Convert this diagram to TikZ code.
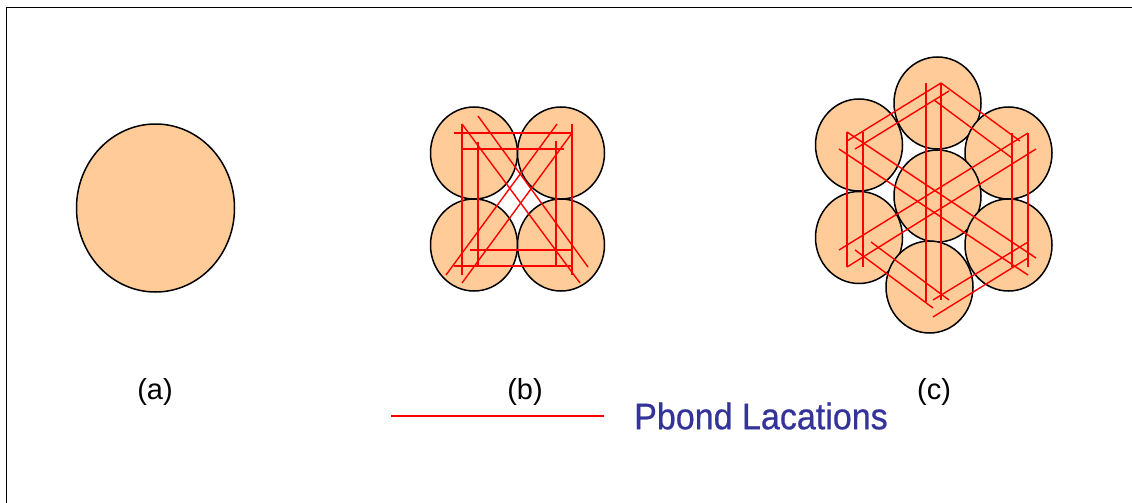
\documentclass[tikz,border=0pt]{standalone}
\usepackage{fontspec}
\setmainfont{Liberation Sans}
\newfontfamily\heavyfont[FakeBold=0.6]{Liberation Sans}
\definecolor{fillc}{RGB}{255,204,153}
\definecolor{txtblue}{RGB}{51,51,153}
\usetikzlibrary{shapes.geometric}
\tikzset{
  strand/.style={draw=black,fill=fillc,line width=1.5pt,ellipse,minimum width=87pt,minimum height=92pt,inner sep=0pt},
  bond/.style={draw=red,line width=1.4pt},
  caption/.style={font=\fontsize{29}{33}\selectfont,text=black,inner sep=0pt},
  legendtext/.style={font=\heavyfont\fontsize{37}{42}\selectfont,text=txtblue,inner sep=0pt,anchor=west,xscale=0.92},
  frameline/.style={draw=black,line width=1.5pt}
}
\begin{document}
\begin{tikzpicture}[x=1pt,y=-1pt]
\useasboundingbox (0,0) rectangle (1132,503);
\fill[white] (0,0) rectangle (1132,503);
\coordinate (fa) at (6.5,503);
\coordinate (fb) at (6.5,7.5);
\coordinate (fc) at (1132,7.5);
\draw[frameline] (fa) -- (fb) -- (fc);
% (a)
\node[strand,minimum width=158pt,minimum height=168pt] (sa) at (155.5,208) {};
% (b)
\foreach \n/\x/\y in {btl/474/153,btr/561/153,bbl/474/245,bbr/561/245}
  \node[strand] (\n) at (\x,\y) {};
\foreach \a/\b/\c/\d in {454/133/572/133,461/149/564/149,470/250/572/250,454/266/572/266,
  462/124/462/275,478/142/478/266,556/141/556/266,572/124/572/275,
  462/124/580/283,478/116/588/267,557/124/446/275,572/133/462/283}
  \draw[bond] (\a,\b) -- (\c,\d);
% (c)
\foreach \n/\x/\y in {ct/937.5/103,clt/859/145,crt/1008.5/153,cc/937.5/196,clb/859/237.5,crb/1008.5/245,cb/929.5/287}
  \node[strand] (\n) at (\x,\y) {};
\foreach \a/\b/\c/\d in {847/132/847/267,863/132/863/267,926/83/926/302,941/83/941/300,1012/133/1012/267,1028/133/1028/267,
  847/141/941/83,855/149/949/91,941/83/1020/141,934/100/1012/158,
  847/132/1036/258,839/149/1028/275,1028/133/839/250,1036/149/847/267,
  855/250/933/308,871/242/949/300,933/300/1028/242,933/317/1028/258}
  \draw[bond] (\a,\b) -- (\c,\d);
% captions
\node[caption] (la) at (155,392) {(a)};
\node[caption] (lb) at (525,392) {(b)};
\node[caption] (lc) at (934,392) {(c)};
% legend
\coordinate (l1) at (391,416);
\coordinate (l2) at (604,416);
\draw[bond] (l1) -- (l2);
\node[legendtext] (lt) at (634,416) {Pbond Lacations};
\end{tikzpicture}
\end{document}
